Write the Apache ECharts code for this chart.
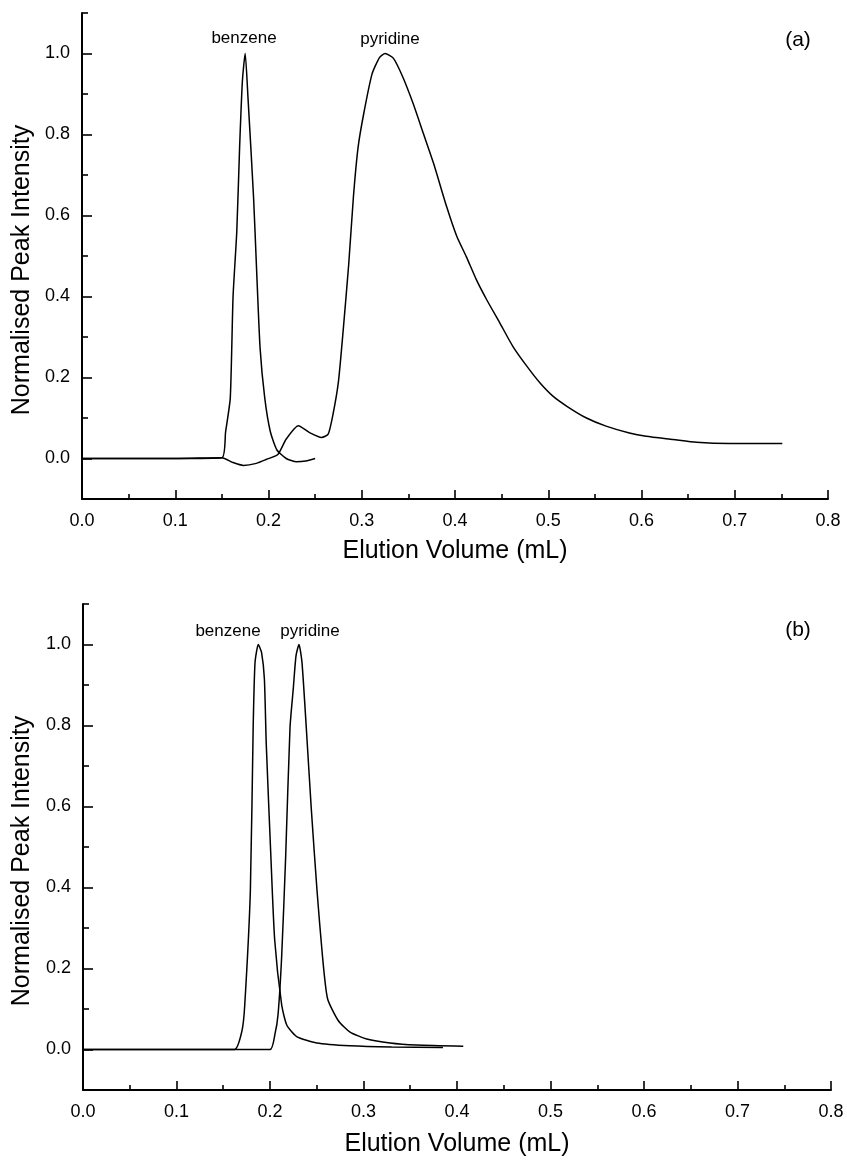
<!DOCTYPE html>
<html>
<head>
<meta charset="utf-8">
<script src="https://cdn.jsdelivr.net/npm/echarts@6/dist/echarts.min.js"></script>
<style>
html,body{margin:0;padding:0;background:#fff;}
#chart{width:847px;height:1164px;}
</style>
</head>
<body>
<div id="chart"></div>
<script>
// ---- Panel (a) ----
var aBenzeneX = [0, 0.10, 0.150, 0.154, 0.159, 0.162, 0.166, 0.169, 0.172, 0.175, 0.178, 0.184, 0.187, 0.191, 0.196, 0.202, 0.209, 0.219, 0.230, 0.240, 0.250];
var aBenzeneY = [0, 0, 0.002, 0.066, 0.149, 0.400, 0.561, 0.767, 0.932, 1.0, 0.891, 0.644, 0.479, 0.272, 0.149, 0.066, 0.021, 0.0, -0.008, -0.006, 0.0];

var aPyridineX = [0, 0.10, 0.150, 0.162, 0.173, 0.187, 0.198, 0.210, 0.219, 0.232, 0.244, 0.257, 0.264, 0.269, 0.275, 0.280, 0.286, 0.291, 0.296, 0.302, 0.311, 0.319, 0.325, 0.334, 0.344, 0.355, 0.366, 0.377, 0.391, 0.402, 0.412, 0.423, 0.434, 0.448, 0.462, 0.477, 0.491, 0.505, 0.520, 0.541, 0.562, 0.587, 0.605, 0.634, 0.659, 0.695, 0.751];
var aPyridineY = [0, 0, 0.002, -0.010, -0.017, -0.012, -0.002, 0.010, 0.048, 0.081, 0.064, 0.052, 0.060, 0.107, 0.190, 0.314, 0.479, 0.644, 0.767, 0.850, 0.949, 0.990, 1.0, 0.988, 0.942, 0.877, 0.803, 0.729, 0.622, 0.548, 0.499, 0.441, 0.392, 0.335, 0.277, 0.228, 0.187, 0.154, 0.129, 0.100, 0.080, 0.063, 0.055, 0.047, 0.040, 0.037, 0.037];

// ---- Panel (b) ----
var bBenzeneX = [0, 0.10, 0.162, 0.170, 0.173, 0.179, 0.182, 0.184, 0.1875, 0.191, 0.194, 0.196, 0.201, 0.205, 0.2125, 0.218, 0.2285, 0.250, 0.2856, 0.330, 0.385];
var bBenzeneY = [0, 0, 0.0, 0.046, 0.110, 0.392, 0.795, 0.956, 1.0, 0.980, 0.915, 0.754, 0.473, 0.271, 0.110, 0.060, 0.032, 0.016, 0.009, 0.006, 0.005];

var bPyridineX = [0, 0.10, 0.200, 0.2053, 0.2086, 0.2125, 0.2167, 0.2214, 0.2249, 0.2278, 0.2310, 0.2342, 0.2388, 0.2442, 0.2503, 0.2561, 0.2615, 0.2731, 0.2856, 0.3034, 0.3283, 0.3569, 0.4067];
var bPyridineY = [0, 0, 0.0, 0.038, 0.086, 0.231, 0.473, 0.795, 0.891, 0.972, 1.0, 0.956, 0.795, 0.593, 0.392, 0.231, 0.126, 0.071, 0.043, 0.026, 0.016, 0.011, 0.008];

// ---- Axis ticks / labels ----
var yMajorTicks = [0, 0.2, 0.4, 0.6, 0.8, 1.0];
var yMinorTicks = [0.1, 0.3, 0.5, 0.7, 0.9, 1.1];

var xTitle = 'Elution Volume (mL)';
var yTitle = 'Normalised Peak Intensity';
var panelLabels = ['(a)', '(b)'];
var peakNames = ['benzene', 'pyridine'];

function pairs(xs, ys) { return xs.map(function (x, i) { return [x, ys[i]]; }); }

var FONT = '"Liberation Sans", Arial, Helvetica, sans-serif';

function xAxisCfg(gi) {
  return {
    type: 'value', gridIndex: gi, min: 0, max: 0.8, interval: 0.1,
    axisLine: { show: true, onZero: false, lineStyle: { color: '#000', width: 2 } },
    axisTick: { show: true, inside: true, length: 9, lineStyle: { color: '#000', width: 1.6 } },
    minorTick: { show: true, splitNumber: 2, length: 5, lineStyle: { color: '#000', width: 1.6 } },
    splitLine: { show: false }, minorSplitLine: { show: false },
    axisLabel: { color: '#000', fontSize: 18, fontFamily: FONT, margin: 13,
      formatter: function (v) { return v.toFixed(1); } }
  };
}
function yAxisMajor(gi) {
  return {
    type: 'value', gridIndex: gi, min: -0.1, max: 1.1, interval: 0.1, position: 'left',
    axisLine: { show: true, onZero: false, lineStyle: { color: '#000', width: 2 } },
    axisTick: { show: true, inside: true, length: 10, customValues: yMajorTicks, lineStyle: { color: '#000', width: 1.6 } },
    splitLine: { show: false },
    axisLabel: { color: '#000', fontSize: 18, fontFamily: FONT, margin: 12, customValues: yMajorTicks,
      formatter: function (v) { return (+v).toFixed(1); } }
  };
}
function yAxisMinor(gi) {
  return {
    type: 'value', gridIndex: gi, min: -0.1, max: 1.1, interval: 0.1, position: 'left',
    axisLine: { show: false },
    axisTick: { show: true, inside: true, length: 6, customValues: yMinorTicks, lineStyle: { color: '#000', width: 1.6 } },
    splitLine: { show: false },
    axisLabel: { show: false }
  };
}
function lineSeries(name, xi, yi, xs, ys) {
  return {
    type: 'line', name: name, xAxisIndex: xi, yAxisIndex: yi,
    data: pairs(xs, ys), showSymbol: false, symbol: 'none',
    smooth: 0.2,
    lineStyle: { color: '#000', width: 1.5 }, animation: false
  };
}
function txt(x, y, text, size, rot) {
  return { type: 'text', x: x, y: y, rotation: rot || 0,
    style: { text: text, font: size + 'px ' + FONT, fill: '#000', textAlign: 'center', textVerticalAlign: 'middle' } };
}

var chart = echarts.init(document.getElementById('chart'), null, { renderer: 'canvas' });
chart.setOption({
  backgroundColor: '#fff',
  animation: false,
  grid: [
    { left: 82, top: 13, width: 746, height: 486 },
    { left: 83, top: 604, width: 748, height: 486 }
  ],
  xAxis: [xAxisCfg(0), xAxisCfg(1)],
  yAxis: [yAxisMajor(0), yAxisMajor(1), yAxisMinor(0), yAxisMinor(1)],
  series: [
    lineSeries('benzene (a)', 0, 0, aBenzeneX, aBenzeneY),
    lineSeries('pyridine (a)', 0, 0, aPyridineX, aPyridineY),
    lineSeries('benzene (b)', 1, 1, bBenzeneX, bBenzeneY),
    lineSeries('pyridine (b)', 1, 1, bPyridineX, bPyridineY)
  ],
  graphic: [
    txt(455, 551, xTitle, 25),
    txt(22, 270, yTitle, 25, Math.PI / 2),
    txt(457, 1144, xTitle, 25),
    txt(22, 861, yTitle, 25, Math.PI / 2),
    txt(244, 38, peakNames[0], 17),
    txt(390, 39, peakNames[1], 17),
    txt(798, 40, panelLabels[0], 21),
    txt(228, 631, peakNames[0], 17),
    txt(310, 631, peakNames[1], 17),
    txt(798, 630, panelLabels[1], 21)
  ]
});
</script>
</body>
</html>
